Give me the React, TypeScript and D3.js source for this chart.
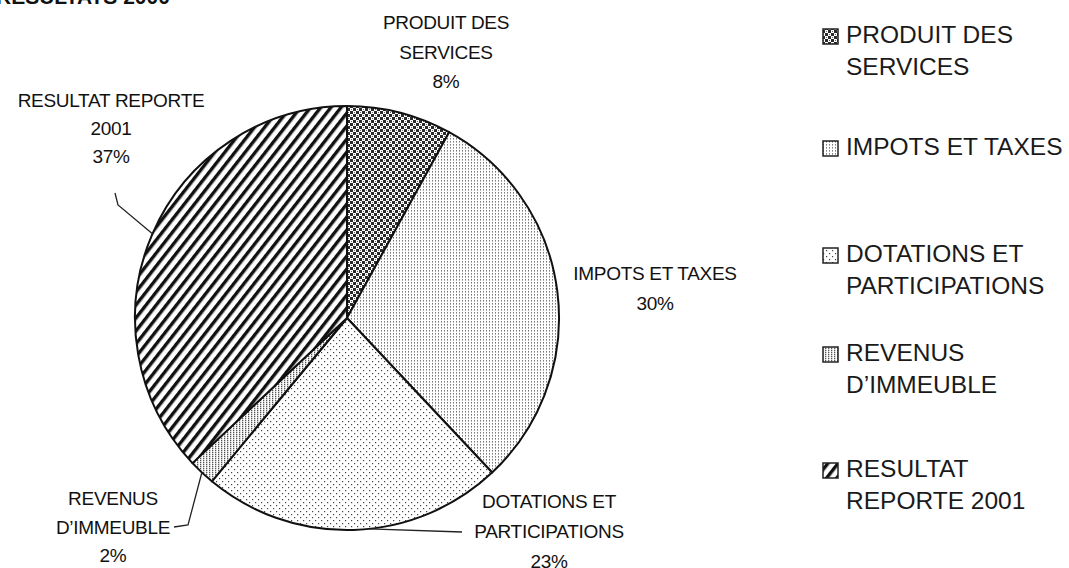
import React from "react";
import * as d3 from "d3";

const titleText = "RESULTATS 2000";
const categories = ["PRODUIT DES SERVICES", "IMPOTS ET TAXES", "DOTATIONS ET PARTICIPATIONS", "REVENUS D’IMMEUBLE", "RESULTAT REPORTE 2001"];
const values = [8, 30, 23, 2, 37];
const pieLabelLines = [["PRODUIT DES", "SERVICES"], ["IMPOTS ET TAXES"], ["DOTATIONS ET", "PARTICIPATIONS"], ["REVENUS", "D’IMMEUBLE"], ["RESULTAT REPORTE", "2001"]];
const legendLines = [["PRODUIT DES", "SERVICES"], ["IMPOTS ET TAXES"], ["DOTATIONS ET", "PARTICIPATIONS"], ["REVENUS", "D’IMMEUBLE"], ["RESULTAT", "REPORTE 2001"]];
const patternIds = ["pCheck", "pVert", "pDots", "pDense", "pHatch"];

// layout (not data)
const W = 1069, H = 568;
const cx = 347, cy = 318, R = 212;
const labelPos = [
  { x: 446, y: 29, lh: 29.5 },
  { x: 655, y: 280, lh: 30 },
  { x: 549, y: 508, lh: 30 },
  { x: 113, y: 505, lh: 28.5 },
  { x: 111, y: 107, lh: 28 },
];
const legendBase = [43, 155, 262, 361, 477];
const FONT = "'Liberation Sans', Arial, Helvetica, sans-serif";

export default function App() {
  const pie = d3.pie<number>().sort(null).value((d) => d).startAngle(0).endAngle(2 * Math.PI);
  const arcs = pie(values);
  const arc = d3.arc<d3.PieArcDatum<number>>().innerRadius(0).outerRadius(R);
  const total = d3.sum(values);
  const pct = d3.format(".0%");

  const edgePoint = (a: d3.PieArcDatum<number>, frac = 0.5, r = R) => {
    const ang = a.startAngle + (a.endAngle - a.startAngle) * frac;
    return [cx + r * Math.sin(ang), cy - r * Math.cos(ang)];
  };

  const line = d3.line();
  // leader lines: from slice edge to label
  const pRes = edgePoint(arcs[4]);
  const pRev = edgePoint(arcs[3]);
  const pDot = edgePoint(arcs[2], 0.45);
  const leaders = [
    line([pRes as [number, number], [118, 205], [115, 193]]),
    line([pRev as [number, number], [188, 525], [174, 527]]),
    line([pDot as [number, number], [462, 532]]),
  ];

  return (
    <svg width={W} height={H} style={{ position: "absolute", left: 0, top: 0, background: "#fff" }} fontFamily={FONT}>
      <defs>
        <pattern id="pCheck" width={6} height={6} patternUnits="userSpaceOnUse">
          <rect width={6} height={6} fill="#fff" />
          <rect x={0} y={0} width={3} height={3} fill="#2a2a2a" />
          <rect x={3} y={3} width={3} height={3} fill="#2a2a2a" />
          <rect x={1} y={4} width={1} height={1} fill="#666" />
          <rect x={4} y={1} width={1} height={1} fill="#666" />
        </pattern>
        <pattern id="pVert" width={3} height={3} patternUnits="userSpaceOnUse">
          <rect width={3} height={3} fill="#fff" />
          <rect x={1} y={0} width={1} height={1.6} fill="#7a7a7a" />
        </pattern>
        <pattern id="pDots" width={6} height={6} patternUnits="userSpaceOnUse">
          <rect width={6} height={6} fill="#fff" />
          <rect x={1} y={1} width={1.2} height={1.2} fill="#444" />
          <rect x={4} y={4} width={1.2} height={1.2} fill="#444" />
        </pattern>
        <pattern id="pDense" width={3} height={2} patternUnits="userSpaceOnUse">
          <rect width={3} height={2} fill="#fff" />
          <rect x={0} y={0} width={1.3} height={1.3} fill="#555" />
        </pattern>
        <pattern id="pHatch" width={8} height={8} patternUnits="userSpaceOnUse" patternTransform="rotate(38)">
          <rect width={8} height={8} fill="#fff" />
          <rect x={0} y={0} width={3.4} height={8} fill="#111" />
        </pattern>
      </defs>

      <text x={-4} y={4} fontSize={21} fontWeight="bold" fill="#111">{titleText}</text>

      <g transform={`translate(${cx},${cy})`}>
        {arcs.map((a, i) => (
          <path key={i} d={arc(a) || ""} fill={`url(#${patternIds[i]})`} stroke="#111" strokeWidth={2} strokeLinejoin="round" />
        ))}
      </g>

      {leaders.map((d, i) => (
        <path key={i} d={d || ""} fill="none" stroke="#222" strokeWidth={1.3} />
      ))}

      {pieLabelLines.map((lines, i) => {
        const p = labelPos[i];
        const all = [...lines, pct(values[i] / total)];
        return (
          <text key={i} textAnchor="middle" fontSize={19} fill="#111" letterSpacing={-0.3}>
            {all.map((t, j) => (
              <tspan key={j} x={p.x} y={p.y + j * p.lh}>{t}</tspan>
            ))}
          </text>
        );
      })}

      {legendLines.map((lines, i) => {
        const b = legendBase[i];
        return (
          <g key={i}>
            <rect x={823} y={b - 14} width={15} height={15} fill={`url(#${patternIds[i]})`} stroke="#222" strokeWidth={1.5} />
            <text fontSize={24.5} fill="#1a1a1a">
              {lines.map((t, j) => (
                <tspan key={j} x={846} y={b + j * 32}>{t}</tspan>
              ))}
            </text>
          </g>
        );
      })}
    </svg>
  );
}
